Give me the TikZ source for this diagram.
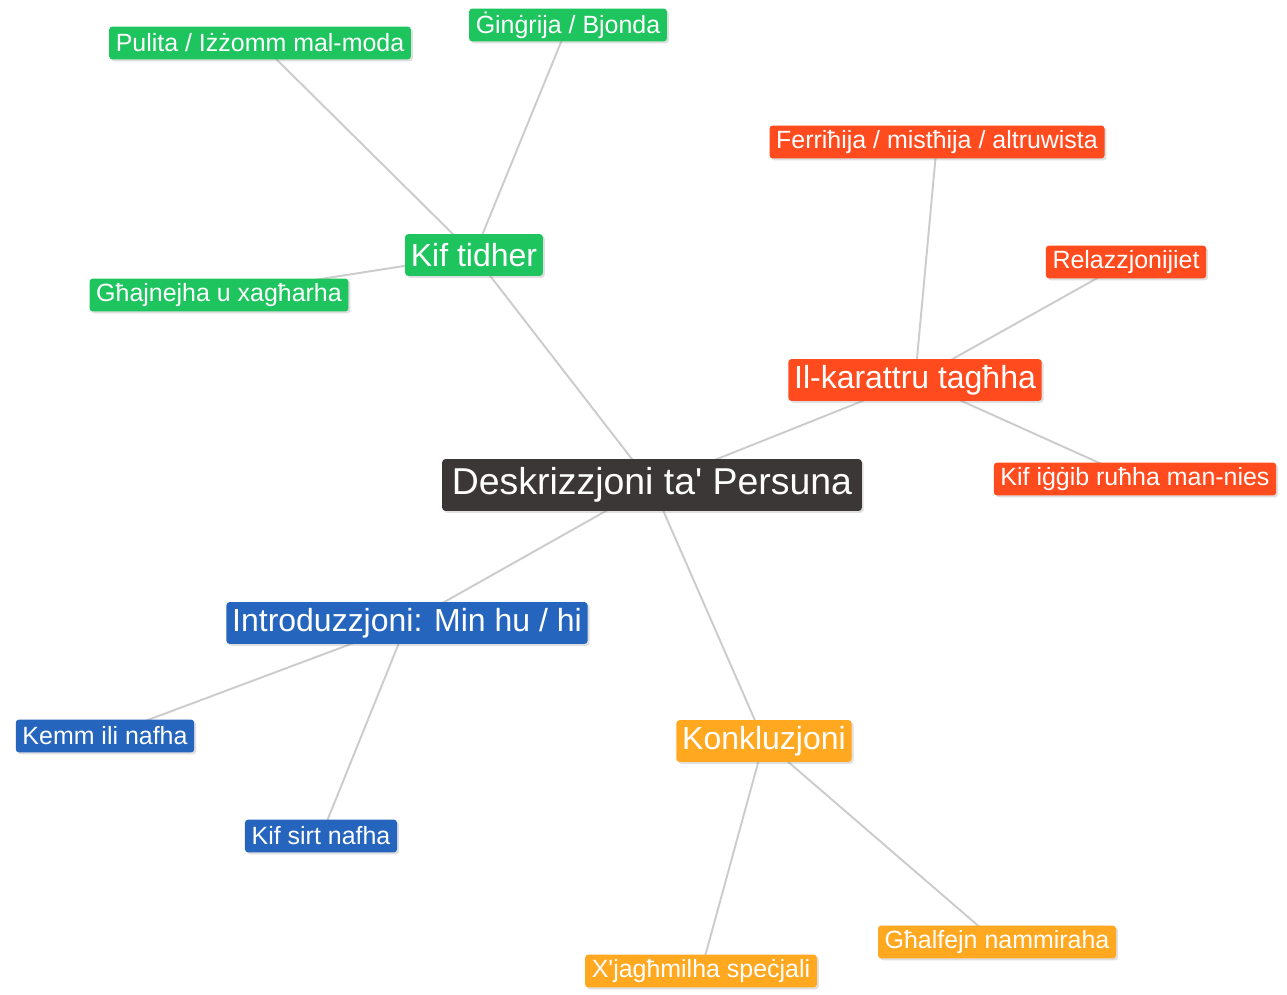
\documentclass[tikz,border=0pt]{standalone}
\usepackage{fontspec}
\setmainfont{Liberation Sans}[Ligatures=TeXOff]
\usetikzlibrary{shadows,backgrounds}
\definecolor{rootgray}{RGB}{59,55,54}
\definecolor{lookgreen}{RGB}{30,196,94}
\definecolor{charred}{RGB}{255,75,30}
\definecolor{introblue}{RGB}{37,101,190}
\definecolor{endorange}{RGB}{255,168,32}
\definecolor{linkgray}{RGB}{204,204,204}
\tikzset{
  topic/.style={rounded corners=1.8pt, text=white, inner sep=0pt,
    drop shadow={shadow xshift=1.1pt, shadow yshift=-1.1pt, opacity=0.25}},
  rootbox/.style={topic, fill=rootgray, font=\fontsize{21.3}{24}\selectfont,
    minimum height=29.5pt, inner xsep=5.5pt},
  mainbox/.style={topic, font=\fontsize{18.2}{21}\selectfont,
    minimum height=23.8pt, inner xsep=3.3pt},
  subbox/.style={topic, font=\fontsize{14.2}{17}\selectfont,
    minimum height=18.7pt, inner xsep=3.8pt},
  link/.style={linkgray, line width=1.1pt},
}

\begin{document}
\begin{tikzpicture}[x=0.02cm, y=-0.02cm]
  \useasboundingbox (0,0) rectangle (1287,994);

  % root
  \node[rootbox] (root) at (652,485) {Deskrizzjoni ta' Persuna};

  % Kif tidher
  \node[mainbox, fill=lookgreen] (look) at (474,255) {Kif tidher};
  \node[subbox, fill=lookgreen] (tidy) at (260,43) {Pulita / Iżżomm mal-moda};
  \node[subbox, fill=lookgreen] (hair) at (568,25) {Ġinġrija / Bjonda};
  \node[subbox, fill=lookgreen] (eyes) at (219,295) {Għajnejha u xagħarha};

  % Il-karattru
  \node[mainbox, fill=charred] (char) at (915,380) {Il-karattru tagħha};
  \node[subbox, fill=charred] (trait) at (937,142) {Ferriħija / mistħija / altruwista};
  \node[subbox, fill=charred] (rel) at (1126,262) {Relazzjonijiet};
  \node[subbox, fill=charred] (manner) at (1135,479) {Kif iġġib ruħha man-nies};

  % Introduzzjoni
  \node[mainbox, fill=introblue] (intro) at (407,623) {Introduzzjoni: Min hu / hi};
  \node[subbox, fill=introblue] (since) at (105,736) {Kemm ili nafha};
  \node[subbox, fill=introblue] (met) at (321,836) {Kif sirt nafha};

  % Konkluzjoni
  \node[mainbox, fill=endorange] (concl) at (764,741) {Konkluzjoni};
  \node[subbox, fill=endorange] (why) at (997,942) {Għalfejn nammiraha};
  \node[subbox, fill=endorange] (special) at (701,971) {X'jagħmilha speċjali};

  % links
  \begin{scope}[on background layer]
    \fill[white] (0,0) rectangle (1287,994);
    \foreach \a/\b in {root/look, root/char, root/intro, root/concl,
                       look/tidy, look/hair, look/eyes,
                       char/trait, char/rel, char/manner,
                       intro/since, intro/met,
                       concl/why, concl/special}
      \draw[link] (\a.center) -- (\b.center);
  \end{scope}
\end{tikzpicture}
\end{document}
